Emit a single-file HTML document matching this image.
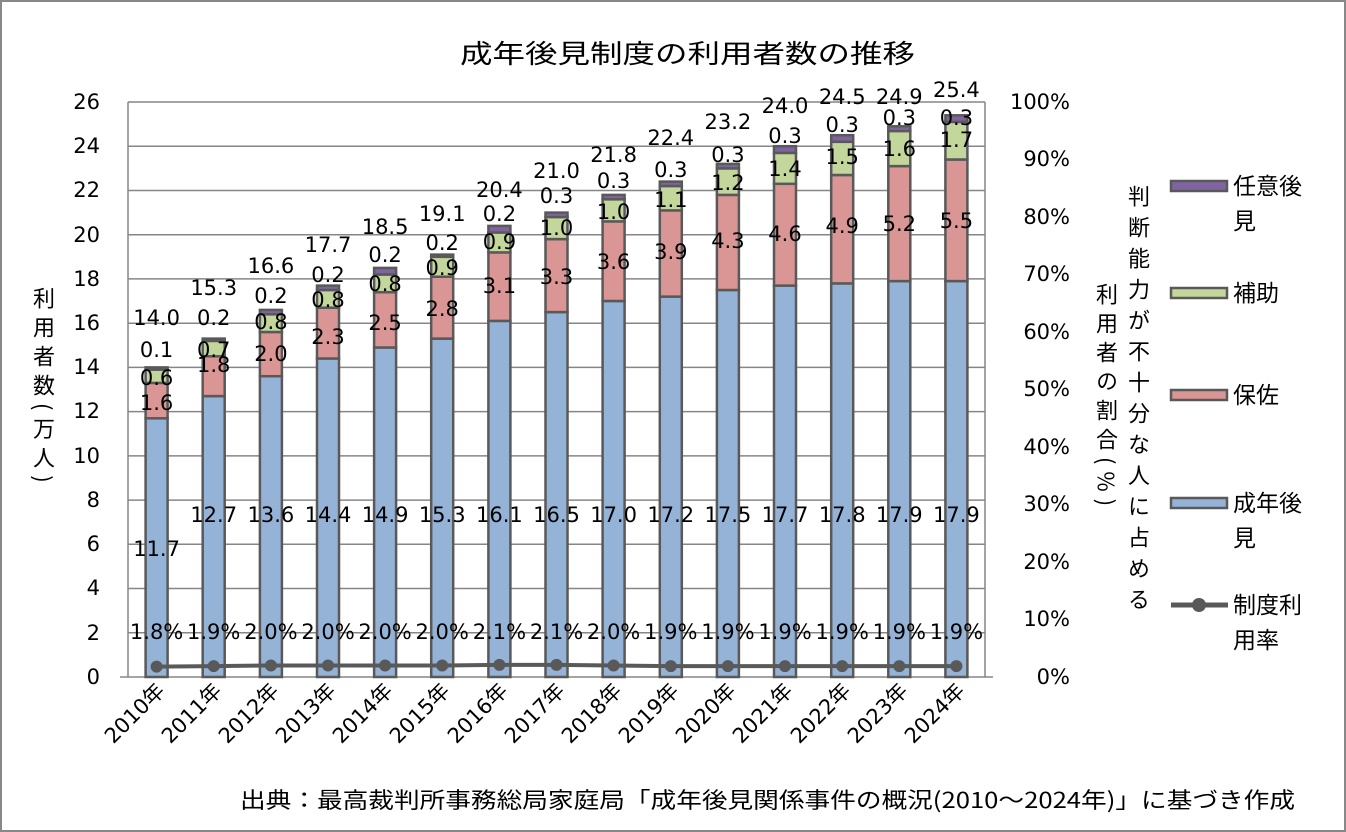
<!DOCTYPE html><html><head><meta charset="utf-8"><style>
body{margin:0;background:#fff;}
.wrap{position:relative;width:1346px;height:832px;overflow:hidden;font-family:"Liberation Sans","Noto Sans CJK JP",sans-serif;}
.v{position:absolute;writing-mode:vertical-rl;font-size:22px;color:#000;font-family:"Noto Sans CJK JP",sans-serif;}
</style></head><body><div class="wrap">
<svg width="1346" height="832" xmlns="http://www.w3.org/2000/svg" style="position:absolute;left:0;top:0" font-family="DejaVu Sans, Noto Sans CJK JP, sans-serif">
<rect x="1" y="1" width="1344" height="830" fill="#fff" stroke="#888" stroke-width="2"/>
<text x="460" y="63" font-size="26" textLength="455" lengthAdjust="spacingAndGlyphs" font-family="Noto Sans CJK JP, sans-serif">成年後見制度の利用者数の推移</text>
<g stroke="#868686" stroke-width="1.5">
<line x1="128" y1="102" x2="985" y2="102"/><line x1="128" y1="146.2" x2="985" y2="146.2"/><line x1="128" y1="190.5" x2="985" y2="190.5"/><line x1="128" y1="234.7" x2="985" y2="234.7"/><line x1="128" y1="278.9" x2="985" y2="278.9"/><line x1="128" y1="323.2" x2="985" y2="323.2"/><line x1="128" y1="367.4" x2="985" y2="367.4"/><line x1="128" y1="411.6" x2="985" y2="411.6"/><line x1="128" y1="455.9" x2="985" y2="455.9"/><line x1="128" y1="500.1" x2="985" y2="500.1"/><line x1="128" y1="544.3" x2="985" y2="544.3"/><line x1="128" y1="588.5" x2="985" y2="588.5"/><line x1="128" y1="632.8" x2="985" y2="632.8"/>
<line x1="128" y1="102" x2="128" y2="677"/><line x1="985" y1="102" x2="985" y2="677"/><line x1="120" y1="677" x2="993" y2="677"/>
</g>
<g font-size="21" text-anchor="end">
<text x="100" y="109">26</text><text x="100" y="153">24</text><text x="100" y="197">22</text><text x="100" y="242">20</text><text x="100" y="286">18</text><text x="100" y="330">16</text><text x="100" y="374">14</text><text x="100" y="418">12</text><text x="100" y="463">10</text><text x="100" y="507">8</text><text x="100" y="551">6</text><text x="100" y="595">4</text><text x="100" y="640">2</text><text x="100" y="684">0</text>
</g>
<g font-size="21" text-anchor="end">
<text x="1070" y="109">100%</text><text x="1070" y="166">90%</text><text x="1070" y="224">80%</text><text x="1070" y="281">70%</text><text x="1070" y="339">60%</text><text x="1070" y="396">50%</text><text x="1070" y="454">40%</text><text x="1070" y="511">30%</text><text x="1070" y="569">20%</text><text x="1070" y="626">10%</text><text x="1070" y="684">0%</text>
</g>
<g stroke="#595959" stroke-width="2.5">
<g fill="#95b3d7">
<rect x="145.6" y="418.3" width="22" height="258.7"/><rect x="202.7" y="396.1" width="22" height="280.9"/><rect x="259.9" y="376.2" width="22" height="300.8"/><rect x="317" y="358.5" width="22" height="318.5"/><rect x="374.1" y="347.5" width="22" height="329.5"/><rect x="431.2" y="338.6" width="22" height="338.4"/><rect x="488.4" y="320.9" width="22" height="356.1"/><rect x="545.5" y="312.1" width="22" height="364.9"/><rect x="602.6" y="301" width="22" height="376"/><rect x="659.8" y="296.6" width="22" height="380.4"/><rect x="716.9" y="290" width="22" height="387"/><rect x="774" y="285.6" width="22" height="391.4"/><rect x="831.2" y="283.4" width="22" height="393.6"/><rect x="888.3" y="281.1" width="22" height="395.9"/><rect x="945.4" y="281.1" width="22" height="395.9"/>
</g>
<g fill="#d99694">
<rect x="145.6" y="382.9" width="22" height="35.4"/><rect x="202.7" y="356.3" width="22" height="39.8"/><rect x="259.9" y="332" width="22" height="44.2"/><rect x="317" y="307.7" width="22" height="50.8"/><rect x="374.1" y="292.2" width="22" height="55.3"/><rect x="431.2" y="276.7" width="22" height="61.9"/><rect x="488.4" y="252.4" width="22" height="68.5"/><rect x="545.5" y="239.1" width="22" height="73"/><rect x="602.6" y="221.4" width="22" height="79.6"/><rect x="659.8" y="210.4" width="22" height="86.2"/><rect x="716.9" y="194.9" width="22" height="95.1"/><rect x="774" y="183.8" width="22" height="101.8"/><rect x="831.2" y="175" width="22" height="108.4"/><rect x="888.3" y="166.1" width="22" height="115"/><rect x="945.4" y="159.5" width="22" height="121.6"/>
</g>
<g fill="#c3d69b">
<rect x="145.6" y="369.6" width="22" height="13.3"/><rect x="202.7" y="340.9" width="22" height="15.4"/><rect x="259.9" y="314.3" width="22" height="17.7"/><rect x="317" y="290" width="22" height="17.7"/><rect x="374.1" y="274.5" width="22" height="17.7"/><rect x="431.2" y="256.8" width="22" height="19.9"/><rect x="488.4" y="232.5" width="22" height="19.9"/><rect x="545.5" y="217" width="22" height="22.1"/><rect x="602.6" y="199.3" width="22" height="22.1"/><rect x="659.8" y="186" width="22" height="24.4"/><rect x="716.9" y="168.4" width="22" height="26.5"/><rect x="774" y="152.9" width="22" height="30.9"/><rect x="831.2" y="141.8" width="22" height="33.2"/><rect x="888.3" y="131" width="22" height="35.1"/><rect x="945.4" y="121.9" width="22" height="37.6"/>
</g>
<g fill="#8064a2">
<rect x="145.6" y="367.4" width="22" height="2.2"/><rect x="202.7" y="338.6" width="22" height="2.3"/><rect x="259.9" y="309.9" width="22" height="4.4"/><rect x="317" y="285.6" width="22" height="4.4"/><rect x="374.1" y="267.9" width="22" height="6.6"/><rect x="431.2" y="254.6" width="22" height="2.2"/><rect x="488.4" y="225.9" width="22" height="6.6"/><rect x="545.5" y="212.6" width="22" height="4.4"/><rect x="602.6" y="194.9" width="22" height="4.4"/><rect x="659.8" y="181.6" width="22" height="4.4"/><rect x="716.9" y="163.9" width="22" height="4.5"/><rect x="774" y="146.2" width="22" height="6.7"/><rect x="831.2" y="135.2" width="22" height="6.6"/><rect x="888.3" y="126.3" width="22" height="4.7"/><rect x="945.4" y="115.3" width="22" height="6.6"/>
</g>
</g>
<polyline fill="none" stroke="#595959" stroke-width="4" points="156.6,666.6 213.7,666.1 270.9,665.5 328,665.5 385.1,665.5 442.2,665.5 499.4,664.9 556.5,664.9 613.6,665.5 670.8,666.1 727.9,666.1 785,666.1 842.2,666.1 899.3,666.1 956.4,666.1"/>
<g fill="#595959">
<circle cx="156.6" cy="666.6" r="6"/><circle cx="213.7" cy="666.1" r="6"/><circle cx="270.9" cy="665.5" r="6"/><circle cx="328" cy="665.5" r="6"/><circle cx="385.1" cy="665.5" r="6"/><circle cx="442.2" cy="665.5" r="6"/><circle cx="499.4" cy="664.9" r="6"/><circle cx="556.5" cy="664.9" r="6"/><circle cx="613.6" cy="665.5" r="6"/><circle cx="670.8" cy="666.1" r="6"/><circle cx="727.9" cy="666.1" r="6"/><circle cx="785" cy="666.1" r="6"/><circle cx="842.2" cy="666.1" r="6"/><circle cx="899.3" cy="666.1" r="6"/><circle cx="956.4" cy="666.1" r="6"/>
</g>
<g font-size="21" text-anchor="middle">
<text x="156.6" y="639">1.8%</text><text x="213.7" y="639">1.9%</text><text x="270.9" y="639">2.0%</text><text x="328" y="639">2.0%</text><text x="385.1" y="639">2.0%</text><text x="442.2" y="639">2.0%</text><text x="499.4" y="639">2.1%</text><text x="556.5" y="639">2.1%</text><text x="613.6" y="639">2.0%</text><text x="670.8" y="639">1.9%</text><text x="727.9" y="639">1.9%</text><text x="785" y="639">1.9%</text><text x="842.2" y="639">1.9%</text><text x="899.3" y="639">1.9%</text><text x="956.4" y="639">1.9%</text>
<text x="156.6" y="556">11.7</text><text x="213.7" y="522">12.7</text><text x="270.9" y="522">13.6</text><text x="328" y="522">14.4</text><text x="385.1" y="522">14.9</text><text x="442.2" y="522">15.3</text><text x="499.4" y="522">16.1</text><text x="556.5" y="522">16.5</text><text x="613.6" y="522">17.0</text><text x="670.8" y="522">17.2</text><text x="727.9" y="522">17.5</text><text x="785" y="522">17.7</text><text x="842.2" y="522">17.8</text><text x="899.3" y="522">17.9</text><text x="956.4" y="522">17.9</text>
<text x="156.6" y="410">1.6</text><text x="213.7" y="372">1.8</text><text x="270.9" y="361">2.0</text><text x="328" y="344">2.3</text><text x="385.1" y="330">2.5</text><text x="442.2" y="316">2.8</text><text x="499.4" y="293">3.1</text><text x="556.5" y="284">3.3</text><text x="613.6" y="269">3.6</text><text x="670.8" y="259">3.9</text><text x="727.9" y="248">4.3</text><text x="785" y="241">4.6</text><text x="842.2" y="233">4.9</text><text x="899.3" y="231">5.2</text><text x="956.4" y="228">5.5</text>
<text x="156.6" y="385">0.6</text><text x="213.7" y="357">0.7</text><text x="270.9" y="329">0.8</text><text x="328" y="307">0.8</text><text x="385.1" y="291">0.8</text><text x="442.2" y="275">0.9</text><text x="499.4" y="249">0.9</text><text x="556.5" y="235">1.0</text><text x="613.6" y="219">1.0</text><text x="670.8" y="207">1.1</text><text x="727.9" y="190">1.2</text><text x="785" y="176">1.4</text><text x="842.2" y="164">1.5</text><text x="899.3" y="156">1.6</text><text x="956.4" y="147">1.7</text>
<text x="156.6" y="357">0.1</text><text x="213.7" y="325">0.2</text><text x="270.9" y="303">0.2</text><text x="328" y="282">0.2</text><text x="385.1" y="262">0.2</text><text x="442.2" y="250">0.2</text><text x="499.4" y="221">0.2</text><text x="556.5" y="203">0.3</text><text x="613.6" y="188">0.3</text><text x="670.8" y="177">0.3</text><text x="727.9" y="162">0.3</text><text x="785" y="143">0.3</text><text x="842.2" y="132">0.3</text><text x="899.3" y="125">0.3</text><text x="956.4" y="125">0.3</text>
<text x="156.6" y="325">14.0</text><text x="213.7" y="295">15.3</text><text x="270.9" y="273">16.6</text><text x="328" y="252">17.7</text><text x="385.1" y="234">18.5</text><text x="442.2" y="221">19.1</text><text x="499.4" y="197">20.4</text><text x="556.5" y="178">21.0</text><text x="613.6" y="162">21.8</text><text x="670.8" y="145">22.4</text><text x="727.9" y="129">23.2</text><text x="785" y="113">24.0</text><text x="842.2" y="104">24.5</text><text x="899.3" y="104">24.9</text><text x="956.4" y="97">25.4</text>
</g>
<g font-size="21" text-anchor="end">
<text transform="translate(166,692) rotate(-45)">2010年</text><text transform="translate(223,692) rotate(-45)">2011年</text><text transform="translate(280,692) rotate(-45)">2012年</text><text transform="translate(337,692) rotate(-45)">2013年</text><text transform="translate(394,692) rotate(-45)">2014年</text><text transform="translate(451,692) rotate(-45)">2015年</text><text transform="translate(509,692) rotate(-45)">2016年</text><text transform="translate(566,692) rotate(-45)">2017年</text><text transform="translate(623,692) rotate(-45)">2018年</text><text transform="translate(680,692) rotate(-45)">2019年</text><text transform="translate(737,692) rotate(-45)">2020年</text><text transform="translate(794,692) rotate(-45)">2021年</text><text transform="translate(852,692) rotate(-45)">2022年</text><text transform="translate(909,692) rotate(-45)">2023年</text><text transform="translate(966,692) rotate(-45)">2024年</text>
</g>
<g stroke="#595959" stroke-width="2.5">
<rect x="1171" y="181" width="56" height="10" fill="#8064a2"/>
<rect x="1171" y="288" width="56" height="10" fill="#c3d69b"/>
<rect x="1171" y="390" width="56" height="10" fill="#d99694"/>
<rect x="1171" y="498" width="56" height="10" fill="#95b3d7"/>
<line x1="1171" y1="605" x2="1228" y2="605" stroke-width="5"/>
</g>
<circle cx="1199" cy="605" r="7" fill="#595959"/>
<g font-size="23" font-family="Noto Sans CJK JP, sans-serif">
<text x="1233" y="194">任意後</text><text x="1233" y="229">見</text>
<text x="1233" y="301">補助</text>
<text x="1233" y="403">保佐</text>
<text x="1233" y="511">成年後</text><text x="1233" y="546">見</text>
<text x="1233" y="613">制度利</text><text x="1233" y="648">用率</text>
</g>
<text x="240" y="808" font-size="22" textLength="1055" lengthAdjust="spacingAndGlyphs" font-family="Noto Sans CJK JP, sans-serif">出典：最高裁判所事務総局家庭局「成年後見関係事件の概況(2010～2024年)」に基づき作成</text>
</svg>
<div class="v" style="left:28px;top:287px;letter-spacing:7px;">利用者数(万人)</div>
<div class="v" style="left:1091px;top:283px;letter-spacing:7px;">利用者の割合(%)</div>
<div class="v" style="left:1123px;top:185px;letter-spacing:9px;">判断能力が不十分な人に占める</div>
</div></body></html>
